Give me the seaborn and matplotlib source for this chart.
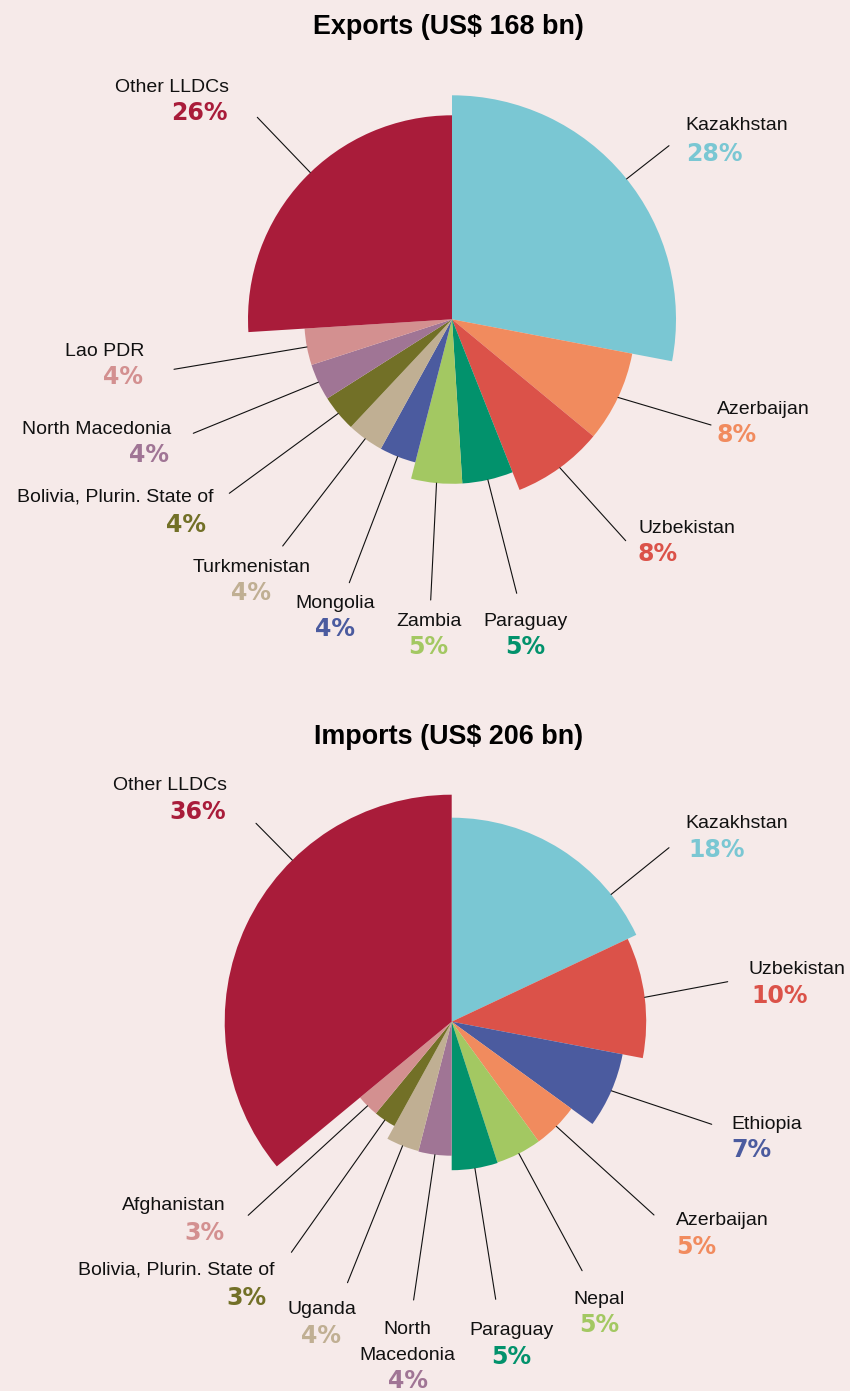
import numpy as np
import pandas as pd
import matplotlib
matplotlib.use("Agg")
import matplotlib.pyplot as plt
from matplotlib.patches import ConnectionPatch
import seaborn as sns

# ---------------- data ----------------
exp_countries = ["Kazakhstan", "Azerbaijan", "Uzbekistan", "Paraguay", "Zambia",
                 "Mongolia", "Turkmenistan", "Bolivia, Plurin. State of",
                 "North Macedonia", "Lao PDR", "Other LLDCs"]
exp_share = [28, 8, 8, 5, 5, 4, 4, 4, 4, 4, 26]
exp_radius = [224, 183.5, 183.5, 164.5, 164.5, 147.7, 147.7, 147.7, 147.7, 147.7, 204]

imp_countries = ["Kazakhstan", "Uzbekistan", "Ethiopia", "Azerbaijan", "Nepal",
                 "Paraguay", "North Macedonia", "Uganda", "Bolivia, Plurin. State of",
                 "Afghanistan", "Other LLDCs"]
imp_share = [18, 10, 7, 5, 5, 5, 4, 4, 3, 3, 36]
imp_radius = [204, 194.5, 174, 148, 148, 148.5, 134, 133.5, 119, 119, 227]

titles = ["Exports (US$ 168 bn)", "Imports (US$ 206 bn)"]

# ---------------- styles ----------------
colors = {
    "Kazakhstan": "#7AC7D3", "Azerbaijan": "#F18B5E", "Uzbekistan": "#DB5249",
    "Paraguay": "#02926C", "Zambia": "#A3C862", "Nepal": "#A3C862",
    "Mongolia": "#4B5B9F", "Ethiopia": "#4B5B9F", "Turkmenistan": "#C0AF93",
    "Uganda": "#C0AF93", "Bolivia, Plurin. State of": "#727027",
    "North Macedonia": "#A07595", "Lao PDR": "#D39090", "Afghanistan": "#D39090",
    "Other LLDCs": "#A91C3A",
}
BG = "#F6EAE9"
W, H = 850, 1391

# label layout (pixel coordinates): line end, name (x, baseline, ha), pct (x, baseline, ha)
exp_layout = {
    "Kazakhstan": ((669, 145.7), (685, 130, "left"), (686, 161, "left")),
    "Azerbaijan": ((711, 425), (716.7, 414, "left"), (717, 442, "left")),
    "Uzbekistan": ((625.7, 540.7), (638.3, 533, "left"), (638, 561, "left")),
    "Paraguay": ((516.7, 593.3), (525.3, 626, "center"), (525, 653.5, "center")),
    "Zambia": ((430.7, 600), (428.8, 626, "center"), (428.7, 653.5, "center")),
    "Mongolia": ((349.3, 582.7), (335.5, 608, "center"), (335, 636, "center")),
    "Turkmenistan": ((282.7, 546), (251.7, 572, "center"), (251, 599.5, "center")),
    "Bolivia, Plurin. State of": ((229.3, 493.3), (214, 501, "right"), (206, 532, "right")),
    "North Macedonia": ((193.3, 433.3), (171, 434.5, "right"), (169.5, 462, "right")),
    "Lao PDR": ((174, 369.3), (144.3, 355.5, "right"), (143, 384, "right")),
    "Other LLDCs": ((257.3, 117.3), (229, 92, "right"), (228, 120, "right")),
}
imp_layout = {
    "Kazakhstan": ((669, 847.7), (685, 827.7, "left"), (688, 857, "left")),
    "Uzbekistan": ((727.7, 981.7), (749, 973.7, "left"), (751.5, 1003, "left")),
    "Ethiopia": ((711.7, 1124.3), (731, 1128.7, "left"), (731.5, 1157, "left")),
    "Azerbaijan": ((654, 1215), (676, 1225.3, "left"), (676, 1254, "left")),
    "Nepal": ((582.1, 1270.7), (599, 1303.7, "center"), (599, 1332, "center")),
    "Paraguay": ((495.7, 1299.3), (511.4, 1334.7, "center"), (511, 1363.5, "center")),
    "North Macedonia": ((413.6, 1300), (407, 1334.3, "center"), (408, 1388, "center")),
    "Uganda": ((347.5, 1282.7), (321.8, 1314.3, "center"), (321.4, 1343, "center")),
    "Bolivia, Plurin. State of": ((291.4, 1252.3), (274.3, 1274.3, "right"), (266.4, 1305, "right")),
    "Afghanistan": ((248.2, 1215.3), (225.4, 1210.3, "right"), (224.3, 1240, "right")),
    "Other LLDCs": ((256, 823.3), (226.7, 790.3, "right"), (226, 819, "right")),
}
name_override = {("imp", "North Macedonia"): "North\nMacedonia"}
# leader line start direction (degrees clockwise from north) where it is not the slice middle
line_angle = {("exp", "Kazakhstan"): 51.2, ("exp", "Other LLDCs"): 316.0,
              ("imp", "Kazakhstan"): 51.4, ("imp", "Other LLDCs"): 315.4}

centers = [(452, 319.3), (451.7, 1021.7)]
title_pos = [(448.7, 34.3), (448.7, 744.3)]
RMAX = 240

sns.set_theme(style="white")
plt.rcParams["font.family"] = ["Liberation Sans", "DejaVu Sans"]

fig = plt.figure(figsize=(W / 100, H / 100), dpi=100)
fig.patch.set_facecolor(BG)

ov = fig.add_axes([0, 0, 1, 1], zorder=5)
ov.set_xlim(0, W)
ov.set_ylim(H, 0)
ov.set_axis_off()
ov.patch.set_alpha(0)

charts = [
    ("exp", exp_countries, exp_share, exp_radius, exp_layout),
    ("imp", imp_countries, imp_share, imp_radius, imp_layout),
]

for i, (key, countries, share, radius, layout) in enumerate(charts):
    df = pd.DataFrame({"country": countries, "share": share, "radius": radius})
    df["width"] = df["share"] / df["share"].sum() * 2 * np.pi
    df["start"] = df["width"].cumsum() - df["width"]
    df["mid"] = df["start"] + df["width"] / 2

    cx, cy = centers[i]
    ax = fig.add_axes([(cx - RMAX) / W, (H - cy - RMAX) / H, 2 * RMAX / W, 2 * RMAX / H],
                      projection="polar", zorder=2)
    ax.set_theta_zero_location("N")
    ax.set_theta_direction(-1)
    ax.bar(df["start"], df["radius"], width=df["width"], align="edge",
           color=[colors[c] for c in df["country"]], edgecolor="none", linewidth=0)
    ax.set_ylim(0, RMAX)
    ax.set_axis_off()

    for _, row in df.iterrows():
        c = row["country"]
        (lx, ly), (nx, ny, nha), (px, py, pha) = layout[c]
        theta = np.deg2rad(line_angle[(key, c)]) if (key, c) in line_angle else row["mid"]
        con = ConnectionPatch(xyA=(theta, row["radius"]), coordsA=ax.transData,
                              xyB=(lx, ly), coordsB=ov.transData,
                              arrowstyle="-", color="#111111", lw=0.8, zorder=6)
        fig.add_artist(con)
        name = name_override.get((key, c), c)
        for j, line in enumerate(name.split("\n")):
            ov.text(nx, ny + j * 25.4, line, ha=nha, va="baseline", fontsize=14,
                    color="#111111", family=["Liberation Sans", "DejaVu Sans"])
        ov.text(px, py, f"{row['share']}%", ha=pha, va="baseline", fontsize=17,
                fontweight="bold", color=colors[c], family=["DejaVu Sans"])

    tx, ty = title_pos[i]
    ov.text(tx, ty, titles[i], ha="center", va="baseline", fontsize=19.4,
            fontweight="bold", color="#000000", family=["Liberation Sans", "DejaVu Sans"])

fig.savefig("out.png", dpi=100, facecolor=BG)
